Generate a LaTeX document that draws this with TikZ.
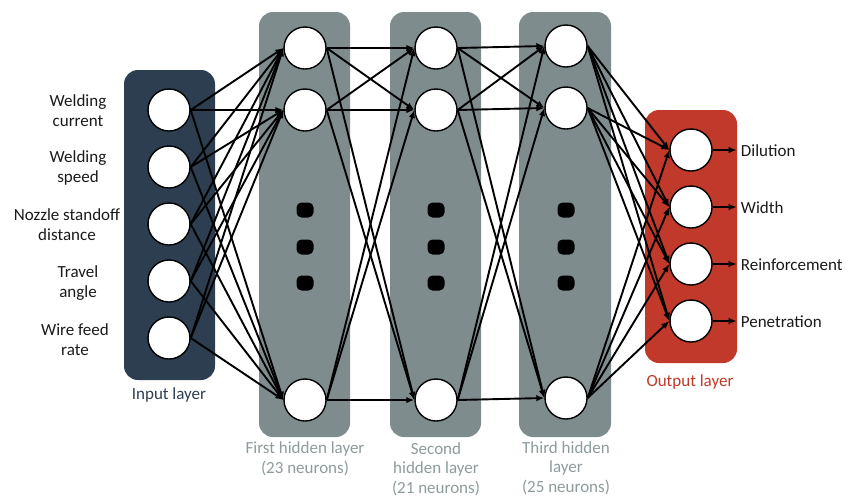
\documentclass[tikz,border=0pt]{standalone}
\usepackage{fontspec}
\setmainfont{Carlito}
\usetikzlibrary{arrows.meta}
\definecolor{inputc}{HTML}{2C3E50}
\definecolor{hiddenc}{HTML}{7F8C8D}
\definecolor{outputc}{HTML}{C0392B}
\definecolor{hidtext}{HTML}{8E9B9C}
\definecolor{txt}{HTML}{1A1A1A}
\begin{document}
\begin{tikzpicture}[x=1pt,y=-1pt,
  neuron/.style={circle,draw=black,line width=1.4pt,fill=white,minimum size=42pt,inner sep=0pt},
  conn/.style={line width=1.9pt,-{Latex[length=8pt,width=6.5pt]}},
  layerbox/.style={rounded corners=14pt},
  lbl/.style={font=\fontsize{17}{20}\selectfont,align=center,inner sep=0pt,text=txt},
  vdot/.style={fill=black,rounded corners=5pt,minimum width=17pt,minimum height=15pt,inner sep=0pt}]
\useasboundingbox (0,0) rectangle (857,499);
% layer boxes
\fill[layerbox,inputc] (124,70) rectangle (215,380);
\fill[layerbox,hiddenc] (259,12) rectangle (350,437);
\fill[layerbox,hiddenc] (390,12) rectangle (481,437);
\fill[layerbox,hiddenc] (519,12) rectangle (611,437);
\fill[layerbox,outputc] (645,110) rectangle (737,363);
% dots
\foreach \x/\n in {305/a,436/b,566/c}{
  \node[vdot] (d\n1) at (\x,210) {};
  \node[vdot] (d\n2) at (\x,247) {};
  \node[vdot] (d\n3) at (\x,283) {};
}
% neurons
\foreach \y [count=\i] in {110,167,224,281,338} \node[neuron] (i\i) at (169,\y) {};
\foreach \y [count=\i] in {48,110,400} \node[neuron] (a\i) at (305,\y) {};
\foreach \y [count=\i] in {48,110,400} \node[neuron] (b\i) at (436,\y) {};
\foreach \y [count=\i] in {46,108,398} \node[neuron] (c\i) at (566,\y) {};
\foreach \y [count=\i] in {150,207,264,321} \node[neuron] (o\i) at (691,\y) {};
% connections
\foreach \i in {1,...,5} \foreach \j in {1,2,3} \draw[conn] (i\i.east) -- (a\j.west);
\foreach \i in {1,2,3} \foreach \j in {1,2,3} \draw[conn] (a\i.east) -- (b\j.west);
\foreach \i in {1,2,3} \foreach \j in {1,2,3} \draw[conn] (b\i.east) -- (c\j.west);
\foreach \i in {1,2,3} \foreach \j in {1,...,4} \draw[conn] (c\i.east) -- (o\j.west);
% input labels
\node[lbl] (t1) at (78,111) {Welding\\current};
\node[lbl] (t2) at (78,168) {Welding\\speed};
\node[lbl] (t3) at (67,225) {Nozzle standoff\\distance};
\node[lbl] (t4) at (78,283) {Travel\\angle};
\node[lbl] (t5) at (75,340) {Wire feed\\rate};
% output labels
\foreach \t [count=\i] in {Dilution,Width,Reinforcement,Penetration}{
  \coordinate (e\i) at ([xshift=24pt]o\i.east);
  \draw[conn] (o\i.east) -- (e\i);
  \node[lbl,anchor=west] (u\i) at ([xshift=4pt,yshift=-1pt]e\i) {\t};
}
% layer names
\node[lbl,text=inputc] (nin) at (169,395) {Input layer};
\node[lbl,text=outputc] (nout) at (690,382) {Output layer};
\node[lbl,text=hidtext] (nh1) at (305,459) {First hidden layer\\(23 neurons)};
\node[lbl,text=hidtext,font=\fontsize{17}{19.5}\selectfont] (nh2) at (436,469) {Second\\hidden layer\\(21 neurons)};
\node[lbl,text=hidtext,font=\fontsize{17}{19.5}\selectfont] (nh3) at (566,468) {Third hidden\\layer\\(25 neurons)};
\end{tikzpicture}
\end{document}
